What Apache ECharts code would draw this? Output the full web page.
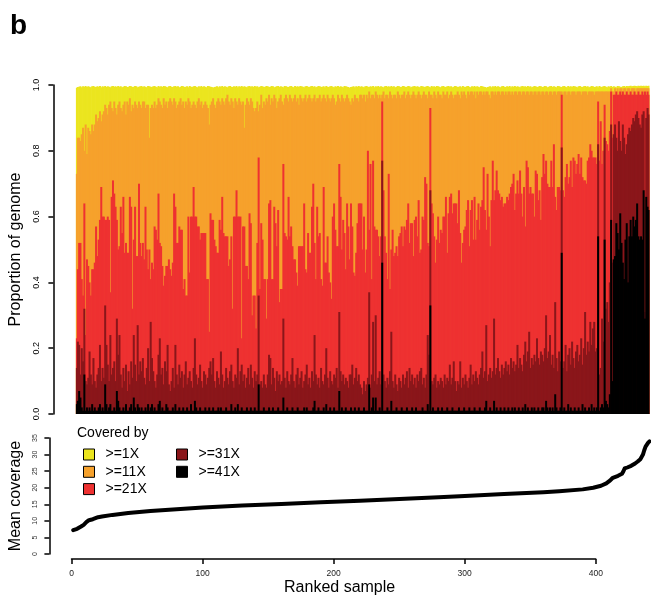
<!DOCTYPE html>
<html><head><meta charset="utf-8">
<script src="https://cdn.jsdelivr.net/npm/echarts@6/dist/echarts.min.js"></script>
<style>
html,body{margin:0;padding:0;background:#fff}
#c{width:651px;height:603px}
</style>
</head><body><div id="c"></div>
<script>
// Percent of genome covered at each depth threshold, per ranked sample (441 samples)
const seriesNames = ['>=1X', '>=11X', '>=21X', '>=31X', '>=41X'];
const seriesColors = ['#EBE51F', '#F6A12C', '#EE3131', '#8A161A', '#000000'];

const cov1 = [
99.2,99.4,99.5,99.6,99.3,99.6,99.5,99.7,99.4,99.6,99.5,99.3,99.6,99.7,99.5,99.4,99.6,99.5,99.7,99.3,99.6,
99.5,99.7,99.4,99.6,99.5,99.3,99.6,99.7,99.5,99.6,99.4,99.7,99.5,99.6,99.3,99.5,99.7,99.6,99.4,99.5,99.7,
99.6,99.4,99.5,99.7,99.6,99.3,99.5,99.6,99.7,99.4,99.6,99.5,99.3,99.7,99.6,99.5,99.4,99.6,99.7,99.5,99.3,
99.7,99.5,99.6,99.4,99.7,99.6,99.5,99.3,99.6,99.7,99.5,99.4,99.6,99.7,99.5,99.6,99.3,99.5,99.7,99.6,99.4,
99.5,99.6,99.3,99.7,99.5,99.4,99.6,99.7,99.5,99.3,99.6,99.5,99.7,99.4,99.6,99.5,99.3,99.7,99.6,99.5,99.4,
99.2,99.4,99.5,99.6,99.3,99.6,99.5,99.7,99.4,99.6,99.5,99.3,99.6,99.7,99.5,99.4,99.6,99.5,99.7,99.3,99.6,
99.5,99.7,99.4,99.6,99.5,99.3,99.6,99.7,99.5,99.6,99.4,99.7,99.5,99.6,99.3,99.5,99.7,99.6,99.4,99.5,99.7,
99.6,99.4,99.5,99.7,99.6,99.3,99.5,99.6,99.7,99.4,99.6,99.5,99.3,99.7,99.6,99.5,99.4,99.6,99.7,99.5,99.3,
99.7,99.5,99.6,99.4,99.7,99.6,99.5,99.3,99.6,99.7,99.5,99.4,99.6,99.7,99.5,99.6,99.3,99.5,99.7,99.6,99.4,
99.5,99.6,99.3,99.7,99.5,99.4,99.6,99.7,99.5,99.3,99.6,99.5,99.7,99.4,99.6,99.5,99.3,99.7,99.6,99.5,99.4,
99.2,99.4,99.5,99.6,99.3,99.6,99.5,99.7,99.4,99.6,99.5,99.3,99.6,99.7,99.5,99.4,99.6,99.5,99.7,99.3,99.6,
99.5,99.7,99.4,99.6,99.5,99.3,99.6,99.7,99.5,99.6,99.4,99.7,99.5,99.6,99.3,99.5,99.7,99.6,99.4,99.5,99.7,
99.6,99.4,99.5,99.7,99.6,99.3,99.5,99.6,99.7,99.4,99.6,99.5,99.3,99.7,99.6,99.5,99.4,99.6,99.7,99.5,99.3,
99.7,99.5,99.6,99.4,99.7,99.6,99.5,99.3,99.6,99.7,99.5,99.4,99.6,99.7,99.5,99.6,99.3,99.5,99.7,99.6,99.4,
99.5,99.6,99.3,99.7,99.5,99.4,99.6,99.7,99.5,99.3,99.6,99.5,99.7,99.4,99.6,99.5,99.3,99.7,99.6,99.5,99.4,
99.2,99.4,99.5,99.6,99.3,99.6,99.5,99.7,99.4,99.6,99.5,99.3,99.6,99.7,99.5,99.4,99.6,99.5,99.7,99.3,99.6,
99.5,99.7,99.4,99.6,99.5,99.3,99.6,99.7,99.5,99.6,99.4,99.7,99.5,99.6,99.3,99.5,99.7,99.6,99.4,99.5,99.7,
99.6,99.4,99.5,99.7,99.6,99.3,99.5,99.6,99.7,99.4,99.6,99.5,99.3,99.7,99.6,99.5,99.4,99.6,99.7,99.5,99.3,
99.7,99.5,99.6,99.4,99.7,99.6,99.5,99.3,99.6,99.7,99.5,99.4,99.6,99.7,99.5,99.6,99.3,99.5,99.7,99.6,99.4,
99.5,99.6,99.3,99.7,99.5,99.4,99.6,99.7,99.5,99.3,99.6,99.5,99.7,99.4,99.6,99.5,99.3,99.7,99.6,99.5,99.4,
99.6,99.7,99.5,99.7,99.6,99.7,99.8,99.6,99.7,99.8,99.7,99.6,99.8,99.7,99.8,99.7,99.8,99.6,99.8,99.7,99.8
];

const cov11 = [
73,84,84,83,85,87,80,88,79,87,86,85,88,86,88,91,89,90,92,89,
91,92,94,93,91,94,95,93,92,95,93,91,94,95,93,92,94,95,91,95,
94,96,92,94,93,95,94,93,95,94,93,95,95,93,94,94,84,93,94,93,
95,93,94,96,95,94,93,96,94,95,93,95,96,
95,94,96,95,93,94,95,96,94,95,93,95,94,96,95,93,94,95,94,93,
95,96,94,95,93,94,95,94,93,88,94,95,96,94,93,95,96,95,94,96,
95,94,96,97,95,94,96,95,93,96,95,94,96,95,94,95,87,94,96,95,
94,96,95,93,92,93,95,92,94,97,93,95,94,
96,95,97,94,96,95,97,96,93,95,96,97,95,94,96,97,96,95,97,96,
95,96,97,95,96,94,97,96,95,96,97,95,96,97,96,95,96,97,95,96,
96,97,95,96,97,96,95,97,96,95,96,97,96,94,95,97,96,95,97,96,
95,96,97,96,95,94,96,95,97,96,96,95,97,
97,96,97,95,97,96,98,96,97,97,96,98,97,96,97,96,97,98,96,97,
97,96,98,97,96,97,97,96,98,97,96,97,97,98,96,97,98,97,96,97,
98,97,96,97,98,97,96,97,98,97,97,96,98,97,97,96,98,97,96,98,
97,97,96,98,97,97,98,96,97,98,97,96,97,
97,98,97,96,98,97,98,97,96,98,97,98,98,97,98,96,98,97,98,98,
97,98,97,98,98,97,96,98,98,97,98,97,98,98,97,98,98,97,98,97,
98,98,97,98,97,98,98,97,98,98,97,98,98,97,98,98,97,98,98,97,
98,98,97,98,98,97,98,98,97,98,98,97,98,
98,97,98,98,97,98,98,98,98,97,98,98,97,98,98,97,98,98,98,97,
98,98,98,97,98,98,98,98,97,98,98,98,98,97,98,98,98,98,98,98,
98,98,98,98,98,98,99,98,98,99,98,99,98,99,99,98,99,99,98,99,
99,98,99,99,99,98,99,99,99,99,99,99,99,99,99,99
];

const cov21 = [
23,44,52,52,41,36,64,24,47,45,40,36,44,44,46,57,48,53,59,69,
60,60,59,59,60,59,37,66,71,67,63,59,50,51,63,55,66,49,52,49,
49,66,63,32,53,63,48,48,70,52,48,52,47,63,50,44,50,41,46,44,
57,56,53,67,52,51,45,39,42,45,45,47,44,
42,46,67,63,52,52,57,56,56,38,41,36,36,60,43,60,60,69,60,60,
57,57,53,55,55,55,55,41,41,25,61,59,59,53,51,49,49,59,56,66,
55,54,54,54,45,47,54,32,60,60,68,60,60,60,23,57,57,45,45,41,
61,58,30,36,36,26,52,78,38,58,53,41,41,
29,41,64,65,41,41,63,58,51,62,34,38,38,76,55,54,53,66,54,57,
51,47,47,43,39,51,51,51,51,64,44,43,55,49,49,63,70,52,41,63,
54,55,41,39,69,46,46,54,43,40,35,60,64,56,51,51,76,66,50,59,
55,44,64,57,47,64,57,43,42,49,58,64,64,
64,50,60,43,50,80,56,76,41,77,57,56,56,54,48,54,95,68,54,49,
41,73,38,50,56,48,49,51,48,54,55,57,51,57,56,59,64,52,58,58,
48,59,60,54,65,49,50,60,59,72,70,52,51,93,64,61,54,46,53,60,
52,56,55,60,60,66,49,61,66,67,61,64,64,
64,58,68,55,46,52,56,57,62,65,51,62,65,53,66,53,59,64,56,63,
65,75,62,56,73,60,51,65,77,65,68,74,68,67,65,66,63,64,64,66,
65,67,69,70,73,62,67,71,67,74,67,60,69,57,77,75,67,69,67,67,
60,74,73,65,68,59,72,79,73,77,70,69,69,
77,69,82,66,62,69,69,68,97,68,66,72,76,70,72,77,69,78,77,73,
76,79,73,78,72,71,71,70,77,78,82,80,78,78,78,
76,95,77,89,76,80,94,83,82,80,86,98,84,
97,97,98,97,97,98,97,98,97,97,98,97,97,98,97,97,98,97,97,98,
97,97,98,97,98,97,98,97
];

const cov31 = [
14,22,21,12,20,16,32,10,9,11,19,12,9,17,10,8,12,14,21,10,
14,11,33,21,15,10,24,12,14,16,10,29,18,24,12,8,14,10,15,7,
13,9,16,11,24,15,10,27,12,16,13,17,11,9,14,20,10,28,17,13,
10,8,12,18,23,12,14,9,16,13,21,9,7,
10,14,8,21,12,9,15,11,13,8,12,16,9,11,13,10,8,14,23,12,
9,11,15,10,8,13,12,9,11,14,16,12,17,10,8,13,11,9,19,12,
8,10,14,11,9,13,15,10,8,12,11,20,9,13,15,10,12,8,11,14,
9,15,11,8,13,10,12,36,9,10,8,12,9,
8,12,18,17,9,14,11,7,13,10,12,9,10,29,11,8,13,10,9,12,
17,10,8,12,14,9,11,13,8,10,12,15,9,11,8,13,10,24,12,9,
11,8,14,10,9,12,20,11,8,13,10,9,12,11,14,8,31,13,10,12,
9,11,10,8,12,12,15,9,11,14,10,12,9,
8,6,10,7,9,11,37,8,12,28,10,30,9,11,13,9,77,12,10,8,
11,9,13,25,10,8,12,9,7,11,10,8,12,9,11,13,8,14,10,12,
9,11,8,12,10,13,14,9,11,8,12,24,18,68,10,9,11,12,8,10,
9,11,10,8,12,9,11,10,15,9,11,16,10,
7,10,9,16,8,11,9,12,10,8,11,15,9,12,10,13,11,9,12,14,
19,11,13,27,10,12,14,11,13,29,12,14,17,13,11,15,12,14,16,13,
15,12,17,14,16,13,15,21,14,17,15,13,18,22,16,19,25,14,17,15,
18,16,23,17,15,19,18,16,20,30,17,19,24,
15,18,14,34,17,13,19,16,81,14,16,21,13,18,20,15,22,17,14,19,
21,16,18,23,15,20,31,18,22,19,28,21,26,28,19,
20,82,12,14,29,22,84,32,34,28,40,88,46,
85,88,84,80,89,83,80,88,84,79,82,85,87,86,88,90,89,91,92,90,
88,87,91,92,31,90,93,91
];

const cov41 = [
3,4,7,5,2,1,12,1,2,1,2,1,3,1,2,1,1,2,3,1,
2,1,9,3,1,2,3,1,1,2,1,7,4,2,1,1,2,1,3,1,
1,2,3,1,5,2,1,3,2,1,2,1,1,2,1,3,1,2,3,1,
2,1,1,3,4,1,2,1,1,3,2,1,1,
1,2,1,3,1,1,2,1,1,2,1,1,2,1,1,3,1,1,4,2,
1,1,2,1,1,1,2,1,1,2,1,1,2,1,1,1,2,1,2,1,
1,1,2,1,1,1,3,1,1,2,1,3,1,1,2,1,1,1,2,1,
1,2,1,1,2,1,1,9,1,1,1,2,1,
1,1,2,1,1,2,1,1,1,2,1,1,1,5,1,1,2,1,1,1,
2,1,1,1,2,1,1,1,1,2,1,2,1,1,1,1,2,4,1,1,
2,1,1,1,2,1,3,1,1,2,1,1,2,1,1,1,7,1,2,1,
1,2,1,1,1,2,1,1,2,1,1,2,1,
1,1,2,1,1,1,9,1,2,5,1,5,1,1,2,1,46,1,1,1,
2,1,1,4,1,1,1,2,1,1,1,2,1,1,1,2,1,1,1,2,
1,1,2,1,1,1,1,2,1,1,1,3,1,33,1,2,1,1,1,2,
1,1,2,1,1,1,2,1,1,1,2,1,1,
1,1,2,1,1,1,2,1,1,1,2,1,1,1,2,1,1,1,2,1,
1,1,2,4,1,1,2,1,1,4,1,2,1,1,2,1,1,2,1,1,
2,1,1,2,1,2,1,1,2,1,1,2,1,3,1,2,1,1,2,1,
2,1,1,2,1,1,2,2,1,4,2,1,2,
1,2,1,6,2,1,1,2,49,1,2,1,1,3,1,2,1,1,2,1,
1,2,1,1,3,1,2,1,1,2,1,3,1,2,1,
2,54,1,2,3,2,53,4,3,2,6,59,10,
47,48,58,55,50,61,52,46,41,53,58,40,54,59,54,60,57,59,64,54,
53,54,53,68,29,66,63,62
];

// Mean coverage of the ranked samples (rank, mean depth)
const meanRank = [1,4,7,9,11,13,16,20,23,31,43,60,80,100,130,160,190,220,250,280,300,330,360,372,390,398,404,408,411,413,417,420,421,422,424,427,430,432,434,436,437,438,440,441];
const meanCov  = [7.2,7.6,8.3,8.8,9.6,10.2,10.5,11.1,11.3,11.8,12.4,13.0,13.5,14.0,14.6,15.1,15.6,16.1,16.6,17.1,17.5,18.1,18.6,18.9,19.5,20.0,20.6,21.3,22.2,23.0,23.6,24.2,24.9,25.8,26.1,26.6,27.3,27.9,28.6,30.0,31.3,32.4,33.6,34.0];

const propTicks = {min: 0, max: 100, interval: 20};
const meanTicks = {min: 0, max: 35, interval: 5};
const rankTicks = {min: 0, max: 400, interval: 100};

const values = [cov1, cov11, cov21, cov31, cov41];
const nSamples = cov21.length;
const samples = Array.from({length: nSamples}, (_, i) => String(i + 1));

const F = '"Liberation Sans", Arial, Helvetica, sans-serif';
const chart = echarts.init(document.getElementById('c'), null, {renderer: 'canvas'});

const barSeries = values.map((arr, k) => ({
  name: seriesNames[k], type: 'bar', xAxisIndex: 0, yAxisIndex: 0,
  data: arr, barGap: '-100%', barWidth: 2,
  itemStyle: {color: seriesColors[k]},
  emphasis: {disabled: true}, z: 2 + k
}));

const legendCommon = {
  orient: 'vertical', top: 447.5, itemWidth: 11, itemHeight: 11, itemGap: 3.3,
  icon: 'rect', selectedMode: false, padding: 0,
  itemStyle: {borderColor: '#000', borderWidth: 1},
  textStyle: {fontSize: 14, color: '#000', fontFamily: F, padding: [0, 0, 0, 6]}
};

const axisLine = {show: true, onZero: false, lineStyle: {color: '#000', width: 1.5}};
const axisTick = {show: true, length: 5, lineStyle: {color: '#000', width: 1.5}};

chart.setOption({
  animation: false,
  backgroundColor: '#fff',
  textStyle: {fontFamily: F},
  title: [
    {text: 'b', left: 5, top: 7, textStyle: {fontSize: 28, fontWeight: 'bold', color: '#000', fontFamily: F}},
    {text: 'Covered by', left: 72, top: 421, textStyle: {fontSize: 14, fontWeight: 'normal', color: '#000', fontFamily: F}}
  ],
  legend: [
    Object.assign({data: seriesNames.slice(0, 3), left: 83}, legendCommon),
    Object.assign({data: seriesNames.slice(3), left: 176}, legendCommon)
  ],
  grid: [
    {left: 71.5, width: 578, top: 85, height: 329},
    {left: 71.5, width: 578, top: 438, height: 116},
    {left: 71.5, width: 578 * rankTicks.max / nSamples, top: 438, height: 116}
  ],
  xAxis: [
    {type: 'category', gridIndex: 0, data: samples, show: false},
    {type: 'value', gridIndex: 1, min: 0, max: nSamples, show: false},
    {type: 'value', gridIndex: 2, min: rankTicks.min, max: rankTicks.max, interval: rankTicks.interval,
     offset: 5, axisLine: axisLine, axisTick: axisTick, splitLine: {show: false},
     axisLabel: {fontSize: 8.5, color: '#222', margin: 10.5, fontFamily: F},
     name: 'Ranked sample', nameLocation: 'middle', nameGap: 21,
     nameTextStyle: {fontSize: 16, color: '#000', fontFamily: F, padding: [0, 0, 0, 12]}}
  ],
  yAxis: [
    {type: 'value', gridIndex: 0, min: propTicks.min, max: propTicks.max, interval: propTicks.interval,
     offset: 22.5, axisLine: axisLine, axisTick: axisTick, splitLine: {show: false},
     axisLabel: {rotate: 90, fontSize: 9, color: '#000', margin: 17, fontFamily: F,
                 align: 'center', verticalAlign: 'middle',
                 formatter: v => (v / 100).toFixed(1)},
     name: 'Proportion of genome', nameLocation: 'middle', nameGap: 20,
     nameTextStyle: {fontSize: 16, color: '#000', fontFamily: F}},
    {type: 'value', gridIndex: 1, min: meanTicks.min, max: meanTicks.max, interval: meanTicks.interval,
     offset: 22.5, axisLine: axisLine, axisTick: axisTick, splitLine: {show: false},
     axisLabel: {rotate: 90, fontSize: 7, color: '#333', margin: 14, fontFamily: F,
                 align: 'center', verticalAlign: 'middle'},
     name: 'Mean coverage', nameLocation: 'middle', nameGap: 20,
     nameTextStyle: {fontSize: 16, color: '#000', fontFamily: F}},
    {type: 'value', gridIndex: 2, show: false}
  ],
  series: barSeries.concat([{
    name: 'Mean coverage', type: 'line', xAxisIndex: 1, yAxisIndex: 1,
    data: meanRank.map((r, i) => [r, meanCov[i]]),
    symbol: 'none', smooth: false,
    lineStyle: {color: '#000', width: 4, cap: 'round', join: 'round'},
    emphasis: {disabled: true}, z: 10
  }])
});
</script>
</body></html>
